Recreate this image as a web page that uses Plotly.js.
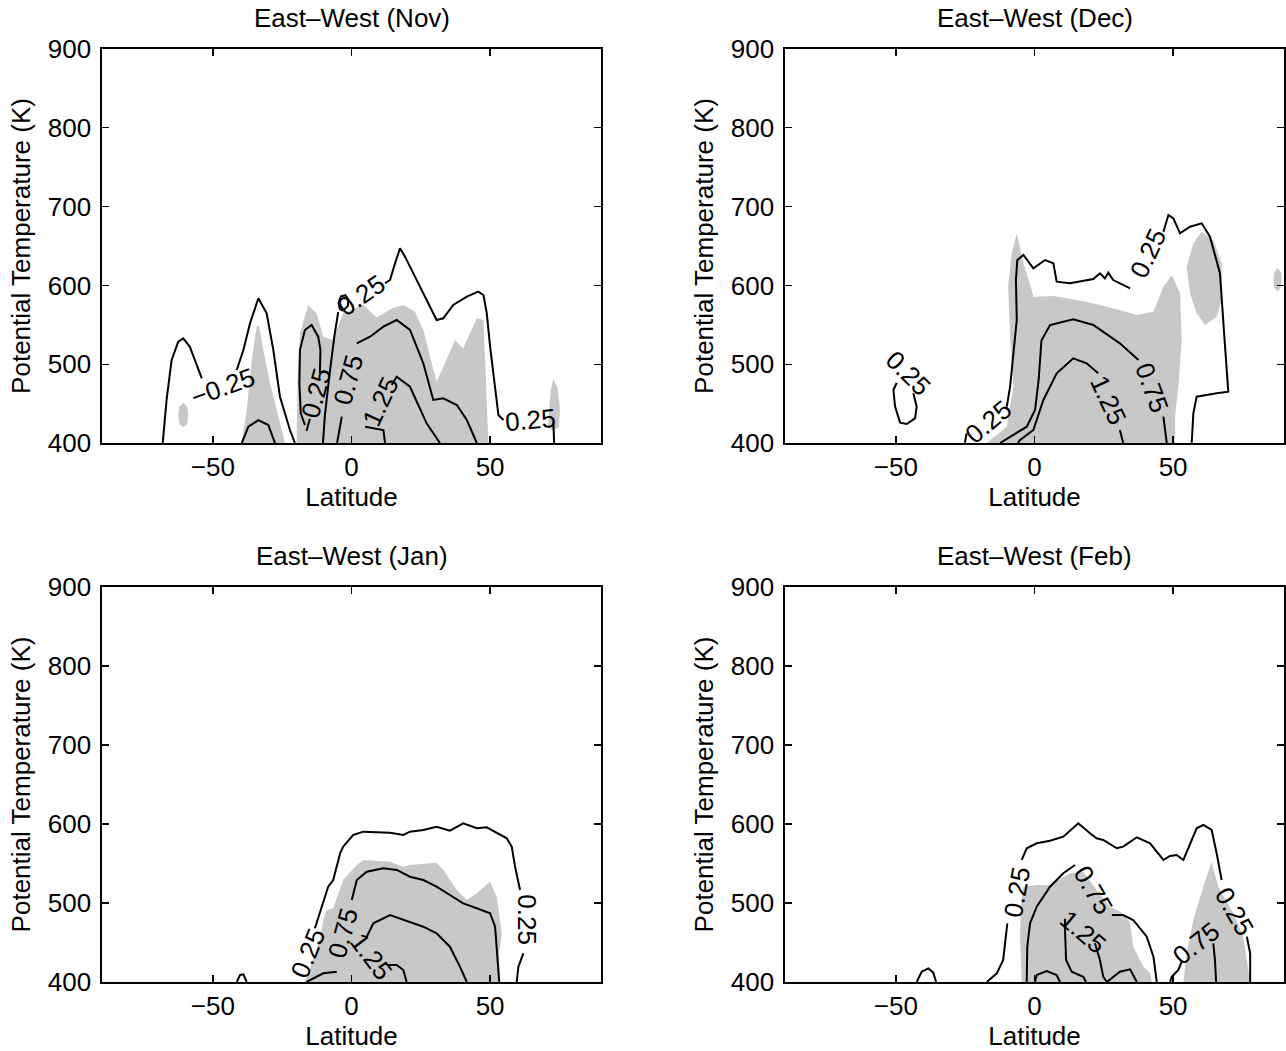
<!DOCTYPE html>
<html>
<head>
<meta charset="utf-8">
<script src="https://cdn.plot.ly/plotly-3.0.1.min.js"></script>
<style>html,body{margin:0;padding:0;background:#fff;}#chart{width:1286px;height:1051px;}</style>
</head>
<body>
<div id="chart"></div>
<script>
// ---------- Panel titles / axis text ----------
const panelTitles = ["East\u2013West (Nov)", "East\u2013West (Dec)", "East\u2013West (Jan)", "East\u2013West (Feb)"];
const xTickVals = [-50, 0, 50];
const yTickVals = [400, 500, 600, 700, 800, 900];

// ---------- Nov (panel 1) ----------
const novM25Lat = [-68.1,-66.7,-64.9,-62.5,-60.7,-58.3,-54.0,null,-41.4,-39.0,-36.6,-33.6,-30.6,-28.2,-25.8,-22.2,-20.4];
const novM25Th  = [400,454.6,505,528.6,532.8,522,482,null,492.6,518,552,583.6,564.6,518,458.8,416.5,400];
const novHumpLat = [-39.6,-37.2,-33.6,-30.0,-27.6];
const novHumpTh  = [400,420.7,429,422.8,400];
const novLoopLat = [-16.8,-18.3,-18.8,-18.6,-16.8,-14.4,-12.0,-11.2,-11.4];
const novLoopTh  = [422.8,437.7,475.8,518,543.4,549.7,534.9,518,488.4];
const novC25Lat = [-10.3,-9.6,-8.0,-6.2,-4.8,null,12.1,13.9,15.7,17.5,19.3,22.3,27.1,30.7,33.1,36.7,41.6,45.7,47.6,48.8,50.0,51.8,53.0,54.8,null,72.8,73.1];
const novC25Th  = [400,435,485,535,566,null,602.7,606.9,628,647.1,636.5,615.3,581.5,556.1,558.3,575.1,585.7,592,587.8,564.6,522.2,467.3,435.5,429.2,null,427,400];
const novOvalLat = [-3.0,-1.3,-1.2,-2.2,-3.8,-4.7,-4.2,-3.0];
const novOvalTh  = [568,574,582,587.5,586,578,570,568];
const novC75Lat = [-5.2,-3.5,null,1.9,6.7,11.5,16.3,21.1,25.9,29.5,33.1,38.0,41.6,45.2];
const novC75Th  = [400,433.4,null,526.5,534.9,547.6,556.1,543.4,501.1,454.6,456.7,448.2,429.2,400];
const novC125Lat = [12.1,11.5,4.9,null,14.5,16.3,21.1,27.1,31.9];
const novC125Th  = [400,416.5,420.7,null,473.6,484.1,471.4,425,400];
const novGrayALat = [-39.6,-37.8,-36.0,-34.2,-33.4,-31.8,-29.4,-26.4,-24.0];
const novGrayATh  = [400,441.9,505,547.6,549.7,518,475.8,433.4,400];
const novGrayDotLat = [-60.7,-59.2,-58.9,-59.3,-60.7,-62.1,-62.5,-62.1];
const novGrayDotTh  = [451,446,436,424,420,424,436,446];
const novGrayBLat = [-19.8,-19.5,-18.6,-15.6,-12.6,-10.2,-6.7,-3.0,4.3,9.1,14.5,18.7,22.9,25.9,28.3,30.7,33.7,37.3,40.3,43.4,45.2,47.6,48.2,49.4];
const novGrayBTh  = [400,475.8,539.2,575.1,564.6,534.9,531,564.6,575.1,559.4,570.8,575.1,566.6,543.4,509.5,477.8,501.1,530.7,520.2,543.4,558.3,556.1,501.1,400];
const novGrayCLat = [71.0,71.8,72.8,74.3,75.2,74.8,72.5,71.0];
const novGrayCTh  = [425,465,482,470,445,420,416,420];
const novLabText = ["\u22120.25","\u22120.25","0.25","0.75","1.25","0.25"];
const novLabLat  = [-46.4,-13.4,3.7,-1.2,10.3,64.4];
const novLabTh   = [471,454.6,587.8,480,452.4,429.2];
const novLabAng  = [-20,-75,-35,-75,-65,-5];

// ---------- Dec (panel 2) ----------
const decLoopLat = [-49.7,-50.9,-50.3,-48.5,-46.1,-43.1,-42.5,-43.7];
const decLoopTh  = [476.5,467.3,446.1,425.8,424.1,431.3,446.1,463.1];
const decC25Lat = [-25.1,-24.5,null,-10.0,-8.8,-7.6,-6.4,-6.7,-6.2,-4.0,-0.4,3.8,6.8,8.0,12.8,21.2,23.6,25.4,26.6,28.4,34.5,null,46.5,48.3,50.1,52.5,56.1,60.3,63.3,66.9,68.4,69.3,69.9,65.7,58.5,57.3,56.7];
const decC25Th  = [400,412.3,null,446.1,471.4,513.8,556.1,606.8,632.2,638.6,621.7,632.2,628,604.7,602.7,608.1,615.4,609,616.1,606.8,596.3,null,668.1,689.3,685.1,666.1,674.5,678.8,661.8,615.4,539.2,488.4,465.1,463.1,458.8,437.7,400];
const decC75Lat = [-12.4,-7.6,-2.8,0.2,1.5,2.5,5.6,14.0,21.2,30.8,37.5,null,46.5,47.7];
const decC75Th  = [400,410.2,420.7,441.9,480,530,549.7,557,549.7,526.5,505.3,null,433.4,400];
const decC125Lat = [-6.0,-5.2,-0.4,3.2,8.0,14.0,18.8,23.0,null,30.8,32.0];
const decC125Th  = [400,403.8,416.5,454.6,488.4,507.5,501.1,488.4,null,416.5,400];
const decGrayALat = [-17.2,-10.0,-7.6,-8.8,-9.5,-8.2,-6.4,-4.0,-1.5,-0.4,6.8,18.8,30.8,36.9,42.9,46.5,49.5,52.5,53.1,51.9,50.7,50.7];
const decGrayATh  = [400,420.7,471.4,534.9,598.3,640.7,666.1,628,600,585.7,586.5,579.3,568.8,562.4,566.6,598.3,613.2,590,530.7,471.4,433.4,400];
const decGrayBLat = [54.9,57.3,60.3,64.5,67.5,67.5,65.7,61.5,58.5,56.1];
const decGrayBTh  = [623.7,653.4,668.1,657.6,628,581.5,560.3,549.7,564.6,590];
const decGrayCLat = [87.7,89.0,89.2,88.9,87.7,86.4,86.2,86.5];
const decGrayCTh  = [622,616,607,598,592,598,607,616];
const decLabText = ["0.25","0.25","0.25","0.75","1.25"];
const decLabLat  = [-45.6,-16.7,41.1,42.3,26.6];
const decLabTh   = [488.7,427,640.7,469.4,454.6];
const decLabAng  = [45,-40,-65,70,65];

// ---------- Jan (panel 3) ----------
const janC25Lat = [-22.2,null,-13.2,-10.2,-8.4,-6.6,-4.1,-3.0,0.6,4.3,13.9,18.7,21.1,25.9,30.7,35.5,40.3,45.2,48.8,56.0,57.8,59.0,60.8,null,62.0,60.2,59.6];
const janC25Th  = [400,null,468,499.6,520.6,529.1,562.9,571.3,586.1,590.3,589,586.1,590.3,592.4,596.6,591.5,600.9,594.6,595.8,581.9,571.3,546,516.5,null,436.3,419.4,400];
const janBumpLat = [-41.4,-40.2,-39.0,-37.8];
const janBumpTh  = [400,408.9,409.7,400];
const janC75Lat = [-16.2,-10.2,-5.3,null,0.1,1.9,5.5,11.5,16.3,21.1,25.9,30.7,35.5,40.3,45.2,50.0,51.8,52.4,53.3];
const janC75Th  = [400,411,413,null,503.8,529.1,539.6,543.9,541.8,533.3,529.1,520.6,510.1,499.6,493.3,487,470,436.3,400];
const janC125Lat = [19.9,18.7,16.3,12.7,null,5.5,7.9,13.9,18.7,25.9,30.7,35.5,39.1,41.6];
const janC125Th  = [400,415.2,421.5,421.5,null,457.3,474.3,484.8,478.5,470,461.7,444.7,419.4,400];
const janGrayLat = [-16.8,-11.4,-10.2,-8.9,-6.6,-3.0,1.9,4.3,13.9,18.7,21.1,30.7,33.1,38.0,41.6,45.2,50.0,52.4,54.2,53.3,53.3];
const janGrayTh  = [400,453.2,478.5,491.2,493.3,529.1,548.1,554.5,552.3,546,548.1,551,541.8,516.5,503.8,512.3,527,508,461.7,436.3,400];
const janLabText = ["0.25","0.75","1.25","0.25"];
const janLabLat  = [-15.6,-3.0,7.3,63.2];
const janLabTh   = [436.3,461.7,432,478.5];
const janLabAng  = [-68,-75,53,90];

// ---------- Feb (panel 4) ----------
const febC25Lat = [-17.2,-13.6,-11.3,-10.6,-9.8,null,-4.6,-2.8,0.8,5.6,10.4,15.8,20.0,22.4,24.8,29.7,32.0,36.9,41.7,46.5,48.9,51.3,53.7,56.1,58.5,60.9,63.9,65.7,67.5,null,76.6,77.8,77.8];
const febC25Th  = [400,411,427.9,453.2,474.3,null,554.5,569.3,575.6,578.9,584,600.9,588.3,581.9,579.8,569.3,571.3,583.2,575.6,554.5,559.5,560.8,554.5,573.4,594.6,598.8,592.4,562.9,529.1,null,457.3,436.3,400];
const febHumpLat = [-42.5,-40.7,-38.3,-36.5,-35.5];
const febHumpTh  = [400,413,417.3,411.8,400];
const febLoopLat = [0.2,0.8,4.4,8.0,9.2];
const febLoopTh  = [400,408.9,413.9,408.9,400];
const febC75aLat = [-2.8,-2.6,-1.6,0.8,5.6,10.4,14.6,null,27.9,32.0,35.6,40.5,42.9,44.1];
const febC75aTh  = [400,444.7,474.3,495.3,520.6,537.6,548.1,null,484.8,484.8,478.5,457.3,432,400];
const febC125Lat = [11.0,11.0,11.4,13.4,17.6,18.6,null,21.8,23.6,24.8,26.1,30.8,34.5,36.9];
const febC125Th  = [480,465.8,427.9,413,406.7,400,null,449,427.9,406.7,400,413,416.1,400];
const febC75bLat = [48.9,49.5,51.9,53.1,null,64.5,65.1,65.5];
const febC75bTh  = [400,406.7,415.2,425.7,null,449,427.9,400];
const febGrayALat = [-4.6,-5.2,-5.0,-4.0,0.8,5.6,12.8,17.6,22.4,27.2,32.0,34.5,35.6,39.3,41.7,42.3];
const febGrayATh  = [400,453.2,495.3,520.6,522.8,522.8,537.6,539.6,516.5,495.3,487,474.3,444.7,419.4,411,400];
const febGrayBLat = [53.7,54.9,57.3,60.9,63.9,66.3,71.7,75.3,77.8];
const febGrayBTh  = [400,436.3,478.5,520.6,552.3,520.6,487,457.3,400];
const febLabText = ["0.25","0.75","1.25","0.75","0.25"];
const febLabLat  = [-6.4,21.2,17.6,58.5,72.3];
const febLabTh   = [514.3,516.5,463.7,449,489];
const febLabAng  = [-80,60,40,-38,60];

// ---------- build ----------
const FONT = "Liberation Sans, Arial, Helvetica, sans-serif";
const FS = 26;
const GRAY = "#c8c8c8";
const traces = [];
function gray(x, y, ax) {
  traces.push({type:"scatter", mode:"lines", x:x, y:y, fill:"toself", fillcolor:GRAY,
    line:{width:0, color:GRAY}, xaxis:"x"+ax, yaxis:"y"+ax, hoverinfo:"skip", showlegend:false});
}
function line(x, y, ax) {
  traces.push({type:"scatter", mode:"lines", x:x, y:y, connectgaps:false,
    line:{width:2, color:"#000"}, xaxis:"x"+ax, yaxis:"y"+ax, hoverinfo:"skip", showlegend:false});
}
// panel 1
gray(novGrayALat, novGrayATh, "");
gray(novGrayDotLat, novGrayDotTh, "");
gray(novGrayBLat, novGrayBTh, "");
gray(novGrayCLat, novGrayCTh, "");
line(novM25Lat, novM25Th, "");
line(novHumpLat, novHumpTh, "");
line(novLoopLat, novLoopTh, "");
line(novC25Lat, novC25Th, "");
line(novOvalLat, novOvalTh, "");
line(novC75Lat, novC75Th, "");
line(novC125Lat, novC125Th, "");
// panel 2
gray(decGrayALat, decGrayATh, "2");
gray(decGrayBLat, decGrayBTh, "2");
gray(decGrayCLat, decGrayCTh, "2");
line(decLoopLat, decLoopTh, "2");
line(decC25Lat, decC25Th, "2");
line(decC75Lat, decC75Th, "2");
line(decC125Lat, decC125Th, "2");
// panel 3
gray(janGrayLat, janGrayTh, "3");
line(janC25Lat, janC25Th, "3");
line(janBumpLat, janBumpTh, "3");
line(janC75Lat, janC75Th, "3");
line(janC125Lat, janC125Th, "3");
// panel 4
gray(febGrayALat, febGrayATh, "4");
gray(febGrayBLat, febGrayBTh, "4");
line(febC25Lat, febC25Th, "4");
line(febHumpLat, febHumpTh, "4");
line(febLoopLat, febLoopTh, "4");
line(febC75aLat, febC75aTh, "4");
line(febC125Lat, febC125Th, "4");
line(febC75bLat, febC75bTh, "4");

const W = 1286, H = 1051;
const xDomL = [102/W, 601/W], xDomR = [785/W, 1284/W];
const yDomT = [1-443/H, 1-49/H], yDomB = [1-982/H, 1-587/H];

function xax(dom, anchor) {
  return {domain:dom, anchor:anchor, range:[-90,90], tickvals:xTickVals,
    ticks:"inside", ticklen:7, tickwidth:1.3, tickcolor:"#000",
    showline:true, linecolor:"#000", linewidth:1.6, mirror:"ticks",
    showgrid:false, zeroline:false,
    tickfont:{family:FONT, size:FS, color:"#000"},
    title:{text:"Latitude", font:{family:FONT, size:FS, color:"#000"}, standoff:5}};
}
function yax(dom, anchor) {
  return {domain:dom, anchor:anchor, range:[400,900], tickvals:yTickVals,
    ticks:"inside", ticklen:7, tickwidth:1.3, tickcolor:"#000",
    showline:true, linecolor:"#000", linewidth:1.6, mirror:"ticks",
    showgrid:false, zeroline:false, ticklabelstandoff:4,
    tickfont:{family:FONT, size:FS, color:"#000"},
    title:{text:"Potential Temperature (K)", font:{family:FONT, size:FS, color:"#000"}, standoff:10}};
}

const annotations = [];
function labels(text, lat, th, ang, ax) {
  for (let i = 0; i < text.length; i++) {
    annotations.push({x:lat[i], y:th[i], xref:"x"+ax, yref:"y"+ax, text:text[i], textangle:ang[i],
      showarrow:false, font:{family:FONT, size:FS, color:"#000"}});
  }
}
labels(novLabText, novLabLat, novLabTh, novLabAng, "");
labels(decLabText, decLabLat, decLabTh, decLabAng, "2");
labels(janLabText, janLabLat, janLabTh, janLabAng, "3");
labels(febLabText, febLabLat, febLabTh, febLabAng, "4");

const titleX = [(xDomL[0]+xDomL[1])/2, (xDomR[0]+xDomR[1])/2, (xDomL[0]+xDomL[1])/2, (xDomR[0]+xDomR[1])/2];
const titleY = [1-18/H, 1-18/H, 1-556/H, 1-556/H];
for (let i = 0; i < 4; i++) {
  annotations.push({x:titleX[i], y:titleY[i], xref:"paper", yref:"paper", text:panelTitles[i],
    showarrow:false, xanchor:"center", yanchor:"middle", font:{family:FONT, size:FS, color:"#000"}});
}

const layout = {
  width:W, height:H, margin:{l:0, r:0, t:0, b:0},
  paper_bgcolor:"#fff", plot_bgcolor:"#fff", showlegend:false,
  xaxis:xax(xDomL,"y"), yaxis:yax(yDomT,"x"),
  xaxis2:xax(xDomR,"y2"), yaxis2:yax(yDomT,"x2"),
  xaxis3:xax(xDomL,"y3"), yaxis3:yax(yDomB,"x3"),
  xaxis4:xax(xDomR,"y4"), yaxis4:yax(yDomB,"x4"),
  annotations:annotations
};
Plotly.newPlot("chart", traces, layout, {displayModeBar:false, staticPlot:true});
</script>
</body>
</html>
